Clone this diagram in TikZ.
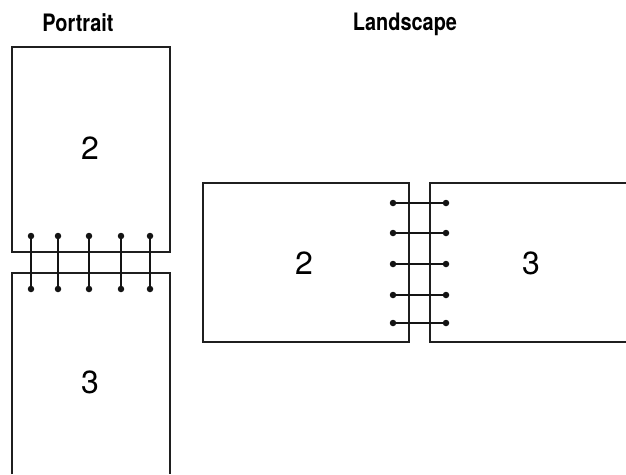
\documentclass[tikz,border=0pt]{standalone}
\usepackage{fontspec}
\setmainfont{TeX Gyre Heros}
\newfontfamily\condbold[FakeStretch=0.83]{TeX Gyre Heros Bold}
\begin{document}
\begin{tikzpicture}[x=1pt,y=-1pt,
  page/.style={draw=black!88, line width=1.9pt},
  ring/.style={draw=black!92, line width=2.6pt},
  holedot/.style={circle, fill=black!92, inner sep=0pt, minimum size=6.5pt},
  title/.style={font=\condbold\fontsize{24}{28}\selectfont, inner sep=0pt, anchor=base},
  num/.style={font=\fontsize{32}{36}\selectfont, inner sep=0pt}]
\useasboundingbox (0,0) rectangle (626,474);
% Titles
\node[title] (tp) at (78,31) {Portrait};
\node[title] (tl) at (405,30) {Landscape};
% Portrait pages
\draw[page] (12,47) rectangle (170,252);
\draw[page] (12,474) -- (12,273) -- (170,273) -- (170,474);
\node[num] (p2) at (90,148) {2};
\node[num] (p3) at (90,382) {3};
% Portrait rings
\foreach \x [count=\i] in {31,58,89,121,150} {
  \node[holedot] (pa\i) at (\x,236) {};
  \node[holedot] (pb\i) at (\x,289) {};
  \draw[ring] (pa\i.center) -- (pb\i.center);
}
% Landscape pages
\draw[page] (203,183) rectangle (409,342);
\draw[page] (626,183) -- (430,183) -- (430,342) -- (626,342);
\node[num] (l2) at (304,263) {2};
\node[num] (l3) at (531,263) {3};
% Landscape rings
\foreach \y [count=\i] in {203,233,264,295,323} {
  \node[holedot] (la\i) at (393,\y) {};
  \node[holedot] (lb\i) at (446,\y) {};
  \draw[ring] (la\i.center) -- (lb\i.center);
}
\end{tikzpicture}
\end{document}
